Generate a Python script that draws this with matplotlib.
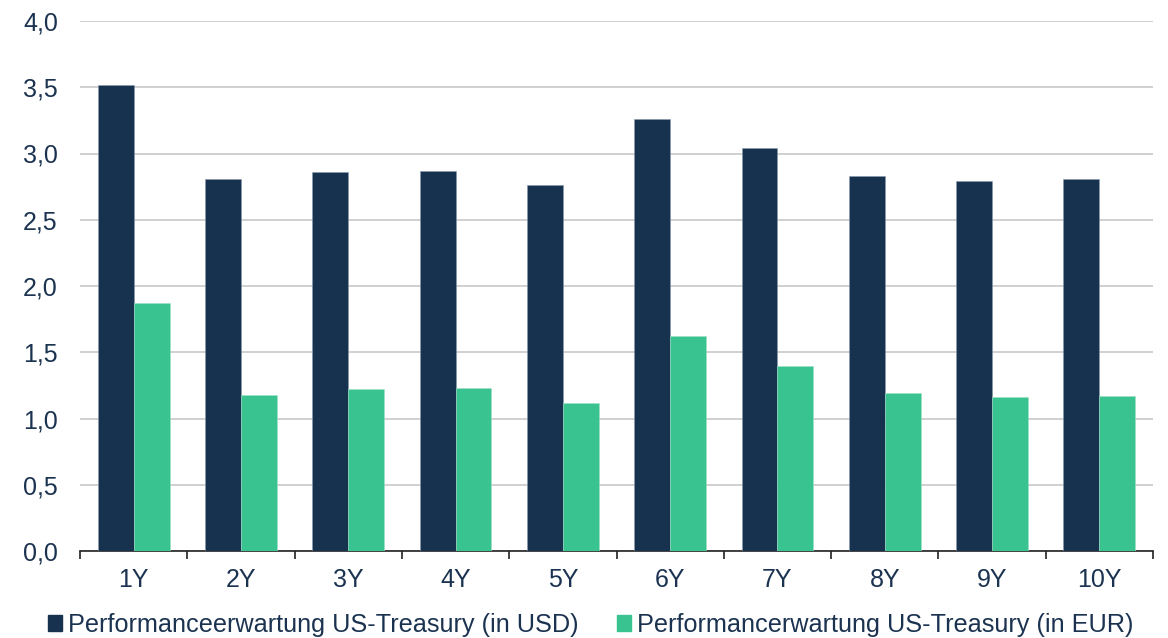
import matplotlib.pyplot as plt
import numpy as np
from matplotlib.ticker import FuncFormatter
from matplotlib.patches import Patch

plt.rcParams['font.family'] = ['Liberation Sans', 'DejaVu Sans']

categories = ['1Y', '2Y', '3Y', '4Y', '5Y', '6Y', '7Y', '8Y', '9Y', '10Y']
usd_values = [3.52, 2.81, 2.86, 2.87, 2.76, 3.26, 3.04, 2.83, 2.795, 2.81]
eur_values = [1.87, 1.175, 1.22, 1.23, 1.12, 1.62, 1.40, 1.19, 1.16, 1.17]
labels = ['Performanceerwartung US-Treasury (in USD)',
          'Performancerwartung US-Treasury (in EUR)']

navy = '#16324f'
green = '#38c391'
text_col = '#1b3350'

fig = plt.figure(figsize=(11.68, 6.38), dpi=100)
ax = fig.add_axes([80 / 1168, 1 - 551 / 638, (1153 - 80) / 1168, 530 / 638])

x = np.arange(len(categories))
w = 0.335
ax.bar(x - w / 2, usd_values, w, color=navy, edgecolor='#8a9aae', linewidth=0.4, zorder=3)
ax.bar(x + w / 2, eur_values, w, color=green, edgecolor='#9fe0c6', linewidth=0.4, zorder=3)

ax.set_xlim(-0.5, len(categories) - 0.5)
ax.set_ylim(0, 4.0)
ax.set_yticks(np.arange(0, 4.01, 0.5))
ax.yaxis.set_major_formatter(FuncFormatter(lambda v, p: f'{v:.1f}'.replace('.', ',')))
ax.grid(axis='y', color='#c8c8c8', linewidth=1.2, zorder=0)

for s in ['top', 'right', 'left']:
    ax.spines[s].set_visible(False)
ax.spines['bottom'].set_color('#222222')
ax.spines['bottom'].set_linewidth(1.2)

ax.set_xticks(x)
ax.set_xticklabels(categories)
ax.set_xticks(np.arange(-0.5, len(categories), 1), minor=True)
ax.tick_params(axis='x', which='major', length=0, pad=12, labelsize=18, labelcolor=text_col)
ax.tick_params(axis='x', which='minor', length=6, width=1.2, color='#222222', direction='out')
ax.tick_params(axis='y', length=0, pad=16, labelsize=18, labelcolor=text_col)

handles = [Patch(color=navy), Patch(color=green)]
fig.legend(handles, labels, loc='center left', bbox_to_anchor=(48 / 1168, 1 - 625 / 638),
           ncol=2, frameon=False, fontsize=18.2, labelcolor=text_col,
           borderaxespad=0, borderpad=0,
           handlelength=0.56, handleheight=0.56, handletextpad=0.25, columnspacing=1.5)

fig.savefig('out.png', dpi=100, facecolor='white')
